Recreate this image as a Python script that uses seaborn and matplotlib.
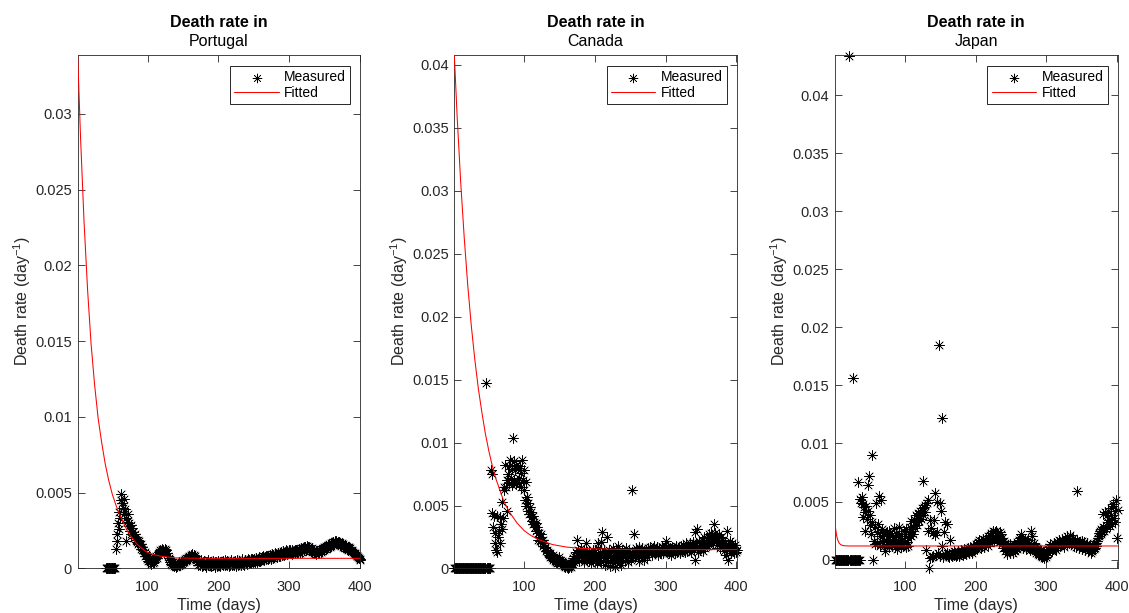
import numpy as np
import pandas as pd
import matplotlib
matplotlib.use("Agg")
import matplotlib.pyplot as plt
import seaborn as sns
from matplotlib.ticker import MultipleLocator, FuncFormatter

# ---------------- data ----------------
countries = ["Portugal", "Canada", "Japan"]
title_line = "Death rate in"
x_label = "Time (days)"
y_label = "Death rate (day$^{-1}$)"
legend_labels = ["Measured", "Fitted"]

# measured daily death rates, in units of 1e-5 day^-1, consecutive days from the start day
pt_start_day = 41
pt_rate_e5 = [
    0, 0, 0, 0, 0, 0, 0, 0, 0, 0, 0, 0, 0,
    0, 127, 226, 180, 300, 260, 370,
    330, 450, 490, 430, 400, 460, 360, 390, 330, 180,
    310, 360, 280, 300, 250, 290, 230, 270, 220, 240,
    200, 230, 190, 210, 175, 190, 160, 180, 150, 160,
    130, 140, 120, 125, 100, 110, 80, 95, 60, 75,
    50, 65, 40, 55, 30, 50, 35, 60, 45, 70,
    60, 85, 70, 95, 90, 110, 105, 125, 115, 130,
    120, 125, 110, 130, 115, 120, 105, 100, 85, 70,
    55, 40, 30, 45, 20, 30, 15, 35, 20, 10,
    25, 15, 30, 20, 40, 25, 45, 30, 50, 40,
    55, 45, 60, 50, 70, 55, 75, 65, 85, 70,
    90, 80, 95, 75, 90, 70, 80, 60, 55, 45,
    40, 20, 50, 25, 55, 35, 15, 45, 25, 50,
    20, 40, 10, 45, 25, 55, 35, 20, 45, 15,
    35, 50, 20, 30, 10, 40, 45, 15, 30, 50,
    20, 40, 15, 45, 30, 50, 20, 35, 55, 25,
    45, 20, 50, 35, 15, 45, 25, 55, 35, 20,
    45, 25, 50, 35, 15, 40, 55, 25, 50, 30,
    45, 20, 50, 60, 30, 45, 25, 55, 35, 50,
    30, 60, 35, 55, 40, 65, 35, 60, 40, 55,
    65, 40, 60, 70, 45, 65, 50, 75, 50, 70,
    55, 75, 60, 80, 55, 75, 85, 60, 80, 65,
    85, 70, 90, 65, 85, 95, 70, 90, 75, 100,
    80, 95, 75, 100, 105, 80, 100, 85, 110, 90,
    105, 115, 90, 110, 95, 120, 95, 115, 100, 120,
    100, 120, 105, 95, 120, 100, 115, 125, 100, 120,
    105, 125, 110, 130, 105, 125, 135, 110, 130, 135,
    140, 120, 145, 125, 150, 130, 145, 125, 140, 120,
    115, 135, 110, 125, 105, 120, 100, 115, 95, 115,
    100, 120, 105, 125, 110, 130, 115, 135, 140, 125,
    145, 130, 150, 135, 155, 140, 160, 145, 165, 150,
    170, 155, 175, 160, 180, 165, 182, 168, 178, 163,
    175, 155, 170, 150, 165, 145, 160, 140, 155, 135,
    150, 130, 145, 125, 140, 120, 135, 115, 120, 115,
    110, 105, 100, 95, 90, 85, 80, 75, 70, 65, 55,
]

ca_start_day = 1
ca_rate_e5 = [
    0, 0, 0, 0, 0, 0, 0, 0, 0, 0, 0, 0, 0, 0, 0, 0, 0, 0, 0, 0,
    0, 0, 0, 0, 0, 0, 0, 0, 0, 0, 0, 0, 0, 0, 0, 0, 0, 0, 0, 0,
    0, 0, 0, 0, 0, 1470, 0, 0, 0, 0, 0, 0,
    780, 750, 440, 330, 420, 280, 200, 150,
    420, 130, 250, 300, 410, 200, 350, 310, 530, 400,
    620, 650, 820, 650, 700, 460, 750, 810, 680, 860,
    720, 790, 660, 1040, 850, 700, 780, 670, 820, 690,
    800, 720, 680, 810, 650, 760, 860, 700, 620, 780,
    540, 690, 500, 570, 460, 520, 430, 490, 410, 450,
    380, 420, 350, 370, 330, 360, 300, 330, 280, 230,
    280, 250, 220, 270, 200, 230, 180, 200, 160, 170,
    140, 150, 120, 130, 110, 120, 90, 100, 80, 110,
    70, 90, 60, 80, 50, 70, 40, 60, 90, 50,
    70, 40, 60, 30, 50, 20, 40, 15, 30, 10,
    25, 5, 20, 10, 30, 15, 40, 60, 80, 50,
    100, 70, 130, 230, 90, 150, 110, 60, 140, 100,
    160, 80, 120, 50, 150, 90, 200, 130, 70, 110,
    60, 140, 90, 40, 120, 80, 150, 60, 100, 130,
    70, 110, 40, 160, 200, 90, 130, 50, 210, 290,
    100, 60, 140, 30, 120, 80, 250, 110, 50, 150,
    90, 20, 130, 70, 160, 40, 110, 80, 10, 140,
    60, 100, 180, 50, 120, 90, 30, 150, 70, 110,
    130, 60, 100, 160, 80, 120, 50, 140, 90, 110,
    70, 130, 620, 100, 270, 140, 90, 160, 120, 150,
    110, 170, 60, 130, 150, 100, 160, 120, 70, 140,
    110, 150, 130, 90, 160, 140, 120, 170, 130, 150,
    110, 160, 140, 180, 120, 150, 130, 170, 110, 140,
    160, 120, 150, 130, 170, 140, 120, 160, 190, 220,
    150, 130, 170, 140, 120, 160, 150, 110, 170, 140,
    130, 160, 120, 150, 180, 130, 160, 140, 170, 150,
    120, 180, 160, 140, 190, 150, 170, 130, 200, 160,
    140, 180, 150, 200, 170, 130, 190, 160, 210, 150,
    290, 70, 200, 170, 310, 130, 220, 180, 150, 200,
    170, 230, 140, 190, 250, 160, 210, 180, 240, 200,
    270, 190, 230, 280, 210, 250, 200, 350, 240, 280,
    220, 260, 190, 240, 270, 210, 160, 250, 200, 230,
    180, 220, 140, 200, 170, 110, 300, 70, 190, 150,
    220, 120, 180, 200, 140, 170, 120, 160, 190, 130, 150,
]

jp_start_day = 1
jp_rate_e5 = [
    0, 0, 0, 0, 0, 0, 0, 0, 0, 0, 0, 0, 0, 0, 0, 0, 0, 0, 0, 0,
    4340, 0, 0, 0, 0, 0, 1560, 0, 0, 0, 0, 0, 0,
    670, 0, 520, 0, 490, 540, 480,
    370, 450, 410, 250, 460, 350, 640, 420, 720, 300,
    380, 220, 320, 900, 0, 160, 280, 130, 490, 240,
    140, 310, 550, 200, 120, 510, 260, 150, 230, 120,
    210, 70, 170, 240, 130, 200, 110, 250, 160, 130,
    210, 120, 180, 270, 140, 110, 230, 160, 90, 200,
    130, 280, 150, 110, 220, 170, 120, 250, 140, 200,
    110, 260, 150, 190, 120, 240, 280, 200, 330, 250,
    290, 220, 350, 270, 320, 380, 300, 360, 400, 330,
    390, 420, 350, 440, 380, 680, 450, 410, 470, 80,
    490, 250, 510, -77, 10, 340, 270, 20, 230, 30,
    340, 210, 570, 40, 500, 240, 60, 1850, 490, 30,
    420, 1220, 120, 20, 240, 50, 320, 40, 60, 310,
    30, 50, 20, 170, 40, 60, 30, 50, 70, 40,
    50, 30, 60, 40, 70, 50, 30, 60, 80, 50,
    70, 40, 60, 90, 60, 80, 50, 70, 100, 60,
    80, 110, 70, 90, 60, 100, 80, 120, 90, 110,
    130, 90, 150, 110, 170, 130, 100, 160, 120, 180,
    140, 110, 170, 130, 190, 150, 120, 200, 160, 210,
    140, 230, 180, 250, 200, 160, 240, 190, 250, 170,
    230, 200, 150, 240, 180, 220, 130, 190, 100, 160,
    70, 140, 80, 120, 50, 110, 70, 130, 60, 100,
    80, 120, 60, 90, 130, 70, 110, 150, 90, 130,
    170, 110, 190, 220, 140, 170, 100, 160, 120, 180,
    90, 150, 120, 170, 100, 140, 80, 250, 130, 200,
    110, 90, 140, 70, 110, 60, 100, 50, 90, 40,
    80, 30, 70, 20, 60, 30, 10, 50, 20, 70,
    40, 90, 60, 110, 80, 130, 100, 70, 120, 90,
    140, 100, 130, 80, 150, 110, 140, 170, 120, 150,
    130, 180, 140, 160, 110, 190, 150, 170, 130, 200,
    160, 140, 210, 170, 130, 180, 150, 190, 120, 160,
    140, 110, 590, 170, 130, 150, 100, 140, 120, 160,
    90, 130, 110, 150, 80, 120, 100, 140, 70, 110,
    80, 120, 60, 100, 70, 110, 90, 130, 100, 140,
    120, 160, 190, 230, 200, 250, 220, 260, 240, 280,
    390, 250, 410, 300, 260, 380, 320, 420, 340, 290,
    440, 380, 310, 460, 480, 360, 420, 320, 510, 190, 430,
]

# fitted curves (day, rate)
pt_fit_days = [1, 5, 10, 15, 20, 25, 30, 35, 40, 45, 50, 55, 60, 65, 70, 75, 80, 85, 90,
               95, 100, 110, 120, 130, 140, 160, 200, 401]
pt_fit_rate = [0.0339, 0.0285, 0.0229, 0.0184, 0.0148, 0.0121, 0.0099, 0.0083, 0.0069,
               0.0058, 0.0049, 0.0042, 0.0036, 0.0031, 0.0026, 0.0022, 0.0019, 0.0016,
               0.0014, 0.0012, 0.00105, 0.0009, 0.0008, 0.00075, 0.0007, 0.00068,
               0.00067, 0.00067]
ca_fit_days = [1, 5, 10, 15, 20, 25, 30, 35, 40, 45, 50, 55, 60, 65, 70, 75, 80, 85, 90,
               95, 100, 110, 120, 130, 140, 150, 160, 180, 200, 250, 401]
ca_fit_rate = [0.0408, 0.0359, 0.0307, 0.0263, 0.0225, 0.0193, 0.0166, 0.0143, 0.0124,
               0.0107, 0.0093, 0.0081, 0.0071, 0.0063, 0.0055, 0.0049, 0.0044, 0.0040,
               0.0036, 0.0033, 0.0030, 0.0026, 0.0023, 0.0021, 0.0019, 0.0018, 0.0017,
               0.0016, 0.00156, 0.0015, 0.0015]
jp_fit_days = [1, 2, 3, 4, 5, 6, 7, 8, 9, 10, 12, 15, 20, 401]
jp_fit_rate = [0.0032, 0.0026, 0.00218, 0.00188, 0.00167, 0.00152, 0.00142, 0.00134,
               0.00129, 0.00126, 0.00121, 0.001185, 0.00117, 0.00117]

y_limits = [(0, 0.0339), (0, 0.0408), (-0.00077, 0.0435)]
x_limits = (1, 401)

series = [
    (pt_start_day, pt_rate_e5, pt_fit_days, pt_fit_rate),
    (ca_start_day, ca_rate_e5, ca_fit_days, ca_fit_rate),
    (jp_start_day, jp_rate_e5, jp_fit_days, jp_fit_rate),
]

# ---------------- style ----------------
sns.set_theme(style="white")
plt.rcParams["font.family"] = ["Liberation Sans", "DejaVu Sans"]
plt.rcParams["mathtext.fontset"] = "custom"
plt.rcParams["mathtext.rm"] = "Liberation Sans"
plt.rcParams["mathtext.it"] = "Liberation Sans:italic"
ink = "#262626"

fig = plt.figure(figsize=(11.29, 6.13), dpi=100)
lefts = [0.0688, 0.4024, 0.7396]
fmt = FuncFormatter(lambda v, p: "%g" % round(v, 6))

for i, (country, (start, rate_e5, fdays, frate)) in enumerate(zip(countries, series)):
    ax = fig.add_axes([lefts[i], 0.0726, 0.2503, 0.8382])
    df = pd.DataFrame({
        "day": np.arange(start, start + len(rate_e5)),
        "rate": np.array(rate_e5, dtype=float) * 1e-5,
    })
    fit_df = pd.DataFrame({"day": fdays, "rate": frate})

    sns.scatterplot(data=df, x="day", y="rate", marker=(8, 2, 0), s=52,
                    color="black", linewidth=0.45, ax=ax, label=legend_labels[0],
                    clip_on=False, zorder=2)
    sns.lineplot(data=fit_df, x="day", y="rate", color="#ff0000", linewidth=0.75,
                 ax=ax, label=legend_labels[1], zorder=3, estimator=None)

    ax.set_xlim(*x_limits)
    ax.set_ylim(*y_limits[i])
    ax.xaxis.set_major_locator(MultipleLocator(100))
    ax.yaxis.set_major_locator(MultipleLocator(0.005))
    ax.yaxis.set_major_formatter(fmt)
    ax.xaxis.set_major_formatter(fmt)

    ax.tick_params(axis="both", which="major", direction="in", length=5, width=0.6,
                   top=True, right=True, bottom=True, left=True,
                   colors=ink, labelsize=10.5, labelcolor=ink)
    ax.tick_params(axis="x", pad=8)
    ax.tick_params(axis="y", pad=4)
    for sp in ax.spines.values():
        sp.set_visible(True)
        sp.set_color(ink)
        sp.set_linewidth(0.6)

    ax.set_xlabel(x_label, fontsize=11.5, color=ink)
    ax.set_ylabel(y_label, fontsize=11.5, color=ink)
    ax.xaxis.set_label_coords(0.5, -0.057)
    ax.yaxis.set_label_coords(-0.158, 0.52)

    ax.text(0.5, 1.0636, title_line, transform=ax.transAxes, ha="center", va="center",
            fontsize=11.5, fontweight="bold", color="black")
    ax.text(0.5, 1.0247, country, transform=ax.transAxes, ha="center", va="center",
            fontsize=11.5, color="black")

    leg = ax.legend(loc="upper right", bbox_to_anchor=(0.965, 0.978), borderaxespad=0,
                    frameon=True, fancybox=False, edgecolor=ink, fontsize=10,
                    handlelength=3.2, handletextpad=0.4, borderpad=0.3,
                    labelspacing=0.15, framealpha=1, scatterpoints=1, markerscale=0.9)
    leg.get_frame().set_linewidth(0.7)
    for t in leg.get_texts():
        t.set_color("black")

fig.savefig("out.png", dpi=100, facecolor="white")
